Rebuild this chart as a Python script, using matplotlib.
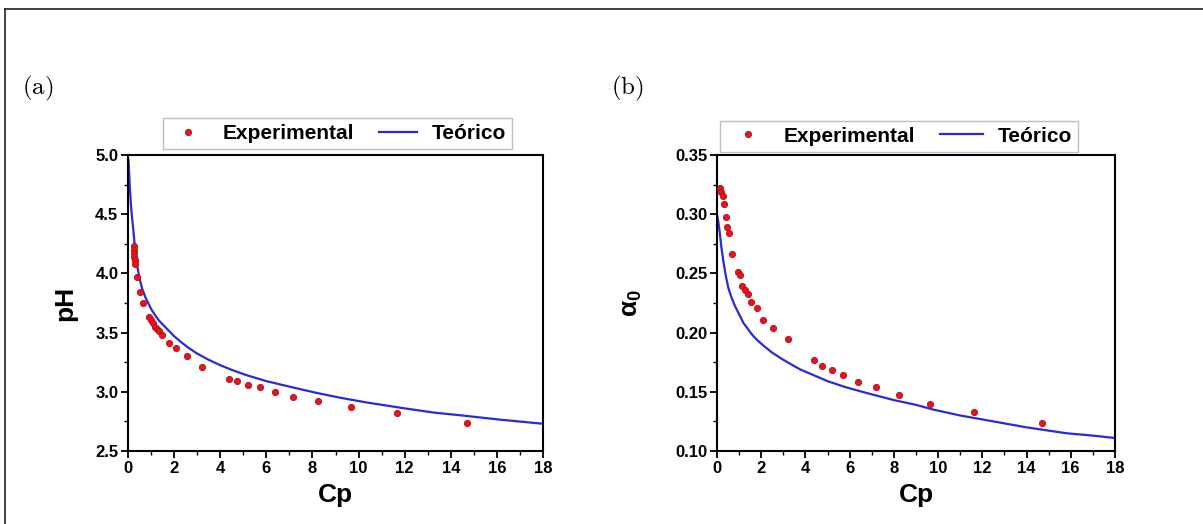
import matplotlib
matplotlib.use("Agg")
import matplotlib.pyplot as plt
from matplotlib.lines import Line2D

plt.rcParams['font.family'] = ['Liberation Sans', 'DejaVu Sans']
plt.rcParams['font.weight'] = 'bold'
plt.rcParams['axes.labelweight'] = 'bold'
plt.rcParams['mathtext.fontset'] = 'custom'
plt.rcParams['mathtext.rm'] = 'Liberation Sans:bold'
plt.rcParams['mathtext.it'] = 'Liberation Sans:bold'
plt.rcParams['mathtext.bf'] = 'Liberation Sans:bold'

# -------------------------
# DATA
# -------------------------

# (a) pH vs Cp
cp_exp_a = [0.24, 0.25, 0.27, 0.28, 0.30, 0.32, 0.38, 0.52, 0.66,
            0.92, 1.00, 1.08, 1.16, 1.25, 1.35, 1.46, 1.78, 2.08, 2.54,
            3.20, 4.39, 4.74, 5.19, 5.72, 6.37, 7.17, 8.22, 9.66, 11.65, 14.69]
ph_exp = [4.23, 4.20, 4.17, 4.14, 4.11, 4.08, 3.97, 3.84, 3.75,
          3.63, 3.61, 3.58, 3.55, 3.53, 3.51, 3.48, 3.41, 3.37, 3.30,
          3.21, 3.11, 3.09, 3.06, 3.04, 3.00, 2.96, 2.92, 2.87, 2.82, 2.74]

cp_teo_a = [0.02, 0.05, 0.08, 0.12, 0.16, 0.23, 0.30, 0.40, 0.49, 0.60,
            0.75, 0.90, 1.00, 1.20, 1.35, 1.55, 1.75, 2.00, 2.30, 2.60,
            2.98, 3.50, 4.00, 4.50, 5.15, 6.00, 7.30, 8.20, 9.20, 10.35,
            12.0, 13.24, 14.5, 16.13, 18.0]
ph_teo = [4.96, 4.85, 4.72, 4.60, 4.50, 4.37, 4.22, 4.06, 3.97, 3.88,
          3.80, 3.74, 3.70, 3.64, 3.60, 3.56, 3.52, 3.47, 3.42, 3.375,
          3.325, 3.27, 3.225, 3.185, 3.14, 3.09, 3.03, 2.99, 2.95, 2.91,
          2.86, 2.825, 2.80, 2.765, 2.73]

# (b) alpha_0 vs Cp
cp_exp_b = [0.14, 0.20, 0.26, 0.32, 0.39, 0.44, 0.54, 0.69, 0.96, 1.04,
            1.12, 1.27, 1.39, 1.54, 1.80, 2.09, 2.55, 3.22, 4.39, 4.73,
            5.19, 5.71, 6.39, 7.19, 8.23, 9.63, 11.62, 14.69]
alpha_exp = [0.322, 0.319, 0.315, 0.309, 0.298, 0.289, 0.284, 0.266, 0.251, 0.249,
             0.239, 0.236, 0.233, 0.226, 0.221, 0.211, 0.204, 0.195, 0.177, 0.172,
             0.168, 0.164, 0.158, 0.154, 0.147, 0.140, 0.133, 0.124]

cp_teo_b = [0.0, 0.05, 0.10, 0.14, 0.20, 0.29, 0.40, 0.51, 0.65, 0.80,
            1.04, 1.20, 1.40, 1.60, 1.80, 2.10, 2.50, 3.00, 3.75, 4.50,
            5.00, 5.80, 6.77, 8.00, 9.00, 9.78, 11.0, 12.8, 14.0, 15.8,
            17.0, 18.0]
alpha_teo = [0.300, 0.295, 0.288, 0.282, 0.272, 0.260, 0.248, 0.238, 0.230, 0.223,
             0.214, 0.208, 0.203, 0.198, 0.194, 0.189, 0.183, 0.177, 0.169, 0.163,
             0.159, 0.154, 0.149, 0.143, 0.139, 0.135, 0.130, 0.124, 0.120, 0.115,
             0.113, 0.111]

red = '#e8141c'
blue = '#2a2ad6'

fig = plt.figure(figsize=(12.03, 5.24), dpi=100)

# outer frame (left and top border)
fig.add_artist(Line2D([0.0042, 0.0042], [0.0, 0.983], transform=fig.transFigure,
                      color='#333333', lw=1.3))
fig.add_artist(Line2D([0.0042, 1.0], [0.983, 0.983], transform=fig.transFigure,
                      color='#333333', lw=1.3))

ax1 = fig.add_axes([0.1064, 0.1393, 0.345, 0.5649])
ax2 = fig.add_axes([0.596, 0.1393, 0.3308, 0.5649])


def style(ax, ylim, ymajor, yminor):
    ax.set_xlim(0, 18)
    ax.set_ylim(*ylim)
    ax.set_xticks(range(0, 19, 2))
    ax.set_xticks(range(0, 19, 1), minor=True)
    ax.set_yticks(ymajor)
    ax.set_yticks(yminor, minor=True)
    ax.tick_params(which='major', direction='out', length=5, width=1.3, labelsize=12, pad=2)
    ax.tick_params(which='minor', direction='out', length=3, width=1.0)
    for s in ax.spines.values():
        s.set_linewidth(1.5)
    ax.set_xlabel("Cp", fontsize=19, labelpad=5)


ax1.plot(cp_exp_a, ph_exp, 'o', color=red, ms=4.5, mec='#b01018', mew=0.6,
         label='Experimental', zorder=3)
ax1.plot(cp_teo_a, ph_teo, '-', color=blue, lw=1.6, label='Teórico')
style(ax1, (2.5, 5.0), [2.5, 3.0, 3.5, 4.0, 4.5, 5.0],
      [2.5 + 0.25 * i for i in range(11)])
ax1.set_yticklabels(['2.5', '3.0', '3.5', '4.0', '4.5', '5.0'])
ax1.set_ylabel("pH", fontsize=19, labelpad=13)

ax2.plot(cp_exp_b, alpha_exp, 'o', color=red, ms=4.5, mec='#b01018', mew=0.6,
         label='Experimental', zorder=3)
ax2.plot(cp_teo_b, alpha_teo, '-', color=blue, lw=1.6, label='Teórico')
style(ax2, (0.10, 0.35), [0.10, 0.15, 0.20, 0.25, 0.30, 0.35],
      [0.10 + 0.025 * i for i in range(11)])
ax2.set_yticklabels(['0.10', '0.15', '0.20', '0.25', '0.30', '0.35'])
ax2.set_ylabel(r"$\alpha_0$", fontsize=19, labelpad=22)

for ax, x0, y0, hl in [(ax1, 0.084, 1.02, 1.85), (ax2, 0.0075, 1.01, 2.05)]:
    ax.legend(loc='lower left', bbox_to_anchor=(x0, y0),
              ncol=2, fontsize=15, frameon=True, fancybox=False,
              edgecolor='#b0b0b0', borderpad=0.3, handlelength=hl,
              handletextpad=0.7, columnspacing=1.2, borderaxespad=0,
              markerscale=1.0)

fig.text(0.018, 0.832, r"$\mathrm{(a)}$", fontsize=18, math_fontfamily='cm',
         va='center', ha='left')
fig.text(0.508, 0.832, r"$\mathrm{(b)}$", fontsize=18, math_fontfamily='cm',
         va='center', ha='left')

fig.savefig("out.png", dpi=100)
